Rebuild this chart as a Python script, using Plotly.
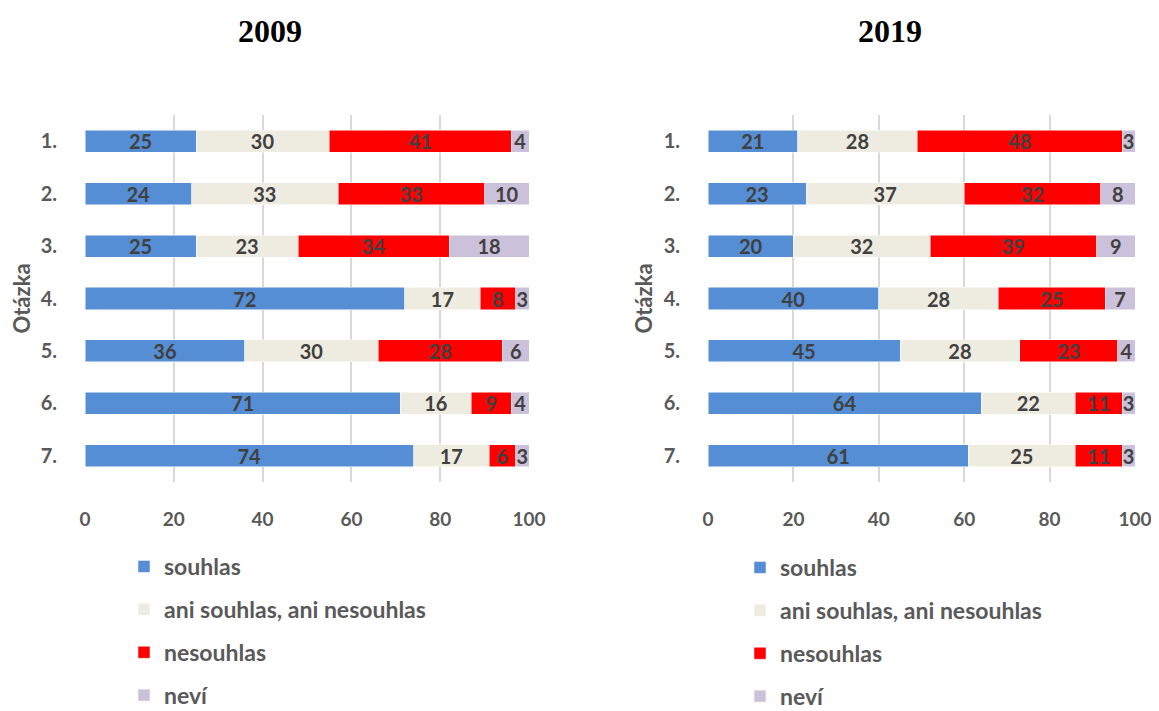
import plotly.graph_objects as go

questions = ["1.", "2.", "3.", "4.", "5.", "6.", "7."]
categories = ["souhlas", "ani souhlas, ani nesouhlas", "nesouhlas", "neví"]
colors = ["#558ED5", "#EEECE1", "#FF0000", "#CCC1DA"]

# 2009 values per category, questions 1..7
souhlas_2009 = [25, 24, 25, 72, 36, 71, 74]
ani_2009 = [30, 33, 23, 17, 30, 16, 17]
nesouhlas_2009 = [41, 33, 34, 8, 28, 9, 6]
nevi_2009 = [4, 10, 18, 3, 6, 4, 3]

# 2019
souhlas_2019 = [21, 23, 20, 40, 45, 64, 61]
ani_2019 = [28, 37, 32, 28, 28, 22, 25]
nesouhlas_2019 = [48, 32, 39, 25, 23, 11, 11]
nevi_2019 = [3, 8, 9, 7, 4, 3, 3]

years = ["2009", "2019"]
series = {
    "2009": [souhlas_2009, ani_2009, nesouhlas_2009, nevi_2009],
    "2019": [souhlas_2019, ani_2019, nesouhlas_2019, nevi_2019],
}

# page body adds an 8px margin, so work in screen pixels and shift back
OFF = 8
W, H = 1159 - OFF, 711 - OFF
FONT = "Lato"
GRAY = "#595959"


def px(x):
    return (x - OFF) / W


def py(y):
    return 1 - (y - OFF) / H


fig = go.Figure()

for i, yr in enumerate(years):
    xa = "x" if i == 0 else "x2"
    ya = "y" if i == 0 else "y2"
    lg = "legend" if i == 0 else "legend2"
    for cat, col, vals in zip(categories, colors, series[yr]):
        fig.add_trace(go.Bar(
            y=questions, x=vals, orientation="h",
            name="<b>" + cat + "</b>",
            marker=dict(color=col, line=dict(color="white", width=0.5)),
            text=vals, textposition="inside", insidetextanchor="middle",
            textangle=0, constraintext="none",
            textfont=dict(family=FONT, size=20, color="#404040", weight="bold"),
            xaxis=xa, yaxis=ya, legend=lg, legendgroup=yr + cat,
            hoverinfo="x+y",
        ))

axis_x = dict(
    range=[0, 100], dtick=20, showgrid=True, gridcolor="#D9D9D9", gridwidth=1.5,
    zeroline=False, showline=False, ticks="", ticklabelstandoff=24,
    automargin=False,
    tickfont=dict(family=FONT, size=19, color=GRAY, weight="bold"),
)
axis_y = dict(
    autorange="reversed", showgrid=False, zeroline=False, showline=False,
    ticks="", ticklabelstandoff=27, automargin=False,
    tickfont=dict(family=FONT, size=20, color=GRAY, weight="bold"),
)
ytitle_font = dict(family=FONT, size=22, color=GRAY)

legend_base = dict(
    orientation="v", yanchor="top", xanchor="left",
    bgcolor="rgba(0,0,0,0)", tracegroupgap=10,
    font=dict(family=FONT, size=23, color=GRAY),
)

title_font = dict(family="Liberation Serif", size=32, color="black")

fig.update_layout(
    width=W, height=H, barmode="stack", bargap=0.58,
    paper_bgcolor="white", plot_bgcolor="white",
    margin=dict(l=0, r=0, t=0, b=0, autoexpand=False),
    xaxis=dict(axis_x, domain=[px(85), px(529)], anchor="y"),
    xaxis2=dict(axis_x, domain=[px(708), px(1135)], anchor="y2"),
    yaxis=dict(axis_y, domain=[py(482), py(115)], anchor="x",
               title=dict(text="<b>Otázka</b>", standoff=22, font=ytitle_font)),
    yaxis2=dict(axis_y, domain=[py(482), py(115)], anchor="x2",
                title=dict(text="<b>Otázka</b>", standoff=4, font=ytitle_font)),
    legend=dict(legend_base, x=px(124), y=py(545)),
    legend2=dict(legend_base, x=px(740), y=py(546)),
    showlegend=True,
    annotations=[
        dict(text="<b>2009</b>", x=px(270), y=py(31), xref="paper", yref="paper",
             xanchor="center", yanchor="middle", showarrow=False, font=title_font),
        dict(text="<b>2019</b>", x=px(890), y=py(31), xref="paper", yref="paper",
             xanchor="center", yanchor="middle", showarrow=False, font=title_font),
    ],
)

fig.write_html("out.html")
